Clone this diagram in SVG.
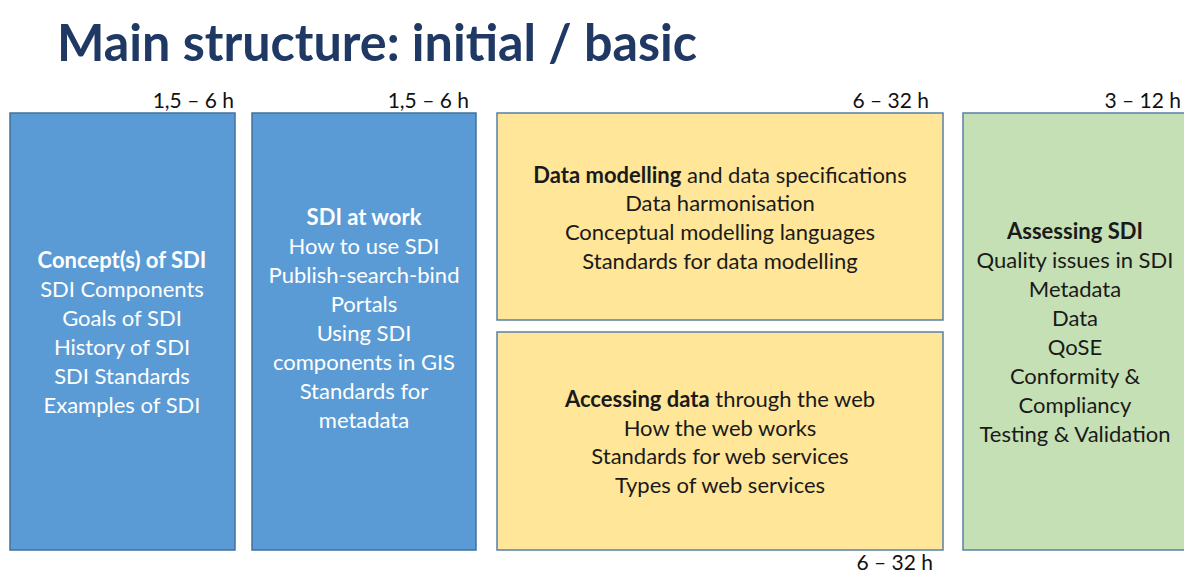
<svg xmlns="http://www.w3.org/2000/svg" width="1184" height="572" viewBox="0 0 1184 572">
<style>
.t{font-family:Lato,"Open Sans","Liberation Sans",sans-serif;font-size:22px;text-anchor:middle}
.w{fill:#ffffff}
.k{fill:#1a1a1a}
.b{font-weight:bold}
.h{font-family:Lato,"Open Sans","Liberation Sans",sans-serif;font-size:21px;fill:#111;text-anchor:end}
.blue{fill:#5B9BD5;stroke:#41719C;stroke-width:1.5}
.yel{fill:#FFE699;stroke:#5A7FA8;stroke-width:1.5}
.grn{fill:#C5E0B4;stroke:#5A7FA8;stroke-width:1.5}
</style>
<rect width="1184" height="572" fill="#ffffff"/>
<text x="57" y="61" font-family="Lato,'Open Sans','Liberation Sans',sans-serif" font-weight="bold" font-size="52" fill="#203864" textLength="640" lengthAdjust="spacingAndGlyphs">Main structure: initial / basic</text>

<g id="labels">
<text class="h" x="234" y="108">1,5 – 6 h</text>
<text class="h" x="469" y="108">1,5 – 6 h</text>
<text class="h" x="929" y="108">6 – 32 h</text>
<text class="h" x="1181" y="108">3 – 12 h</text>
<text class="h" x="933" y="570">6 – 32 h</text>
</g>

<g id="connectors"></g>

<g id="concepts">
<rect class="blue" x="10" y="113" width="225" height="437"/>
<text class="t w b" x="122" y="268">Concept(s) of SDI</text>
<text class="t w" x="122" y="297">SDI Components</text>
<text class="t w" x="122" y="326">Goals of SDI</text>
<text class="t w" x="122" y="355">History of SDI</text>
<text class="t w" x="122" y="384">SDI Standards</text>
<text class="t w" x="122" y="413">Examples of SDI</text>
</g>

<g id="sdi-at-work">
<rect class="blue" x="252" y="113" width="224" height="437"/>
<text class="t w b" x="364" y="225">SDI at work</text>
<text class="t w" x="364" y="254">How to use SDI</text>
<text class="t w" x="364" y="283">Publish-search-bind</text>
<text class="t w" x="364" y="312">Portals</text>
<text class="t w" x="364" y="341">Using SDI</text>
<text class="t w" x="364" y="370">components in GIS</text>
<text class="t w" x="364" y="399">Standards for</text>
<text class="t w" x="364" y="428">metadata</text>
</g>

<g id="data-modelling">
<rect class="yel" x="497" y="113" width="446" height="207"/>
<text class="t k" x="720" y="183"><tspan font-weight="bold">Data modelling</tspan> and data specifications</text>
<text class="t k" x="720" y="211">Data harmonisation</text>
<text class="t k" x="720" y="240">Conceptual modelling languages</text>
<text class="t k" x="720" y="269">Standards for data modelling</text>
</g>

<g id="accessing-data">
<rect class="yel" x="497" y="332" width="446" height="218"/>
<text class="t k" x="720" y="407"><tspan font-weight="bold">Accessing data</tspan> through the web</text>
<text class="t k" x="720" y="436">How the web works</text>
<text class="t k" x="720" y="464">Standards for web services</text>
<text class="t k" x="720" y="493">Types of web services</text>
</g>

<g id="assessing">
<rect class="grn" x="963" y="113" width="230" height="437"/>
<text class="t k b" x="1075" y="239">Assessing SDI</text>
<text class="t k" x="1075" y="268">Quality issues in SDI</text>
<text class="t k" x="1075" y="297">Metadata</text>
<text class="t k" x="1075" y="326">Data</text>
<text class="t k" x="1075" y="355">QoSE</text>
<text class="t k" x="1075" y="384">Conformity &amp;</text>
<text class="t k" x="1075" y="413">Compliancy</text>
<text class="t k" x="1075" y="442">Testing &amp; Validation</text>
</g>
</svg>
